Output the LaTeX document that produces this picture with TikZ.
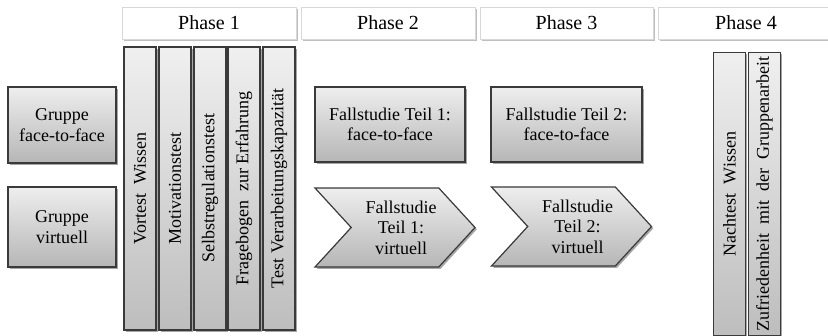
\documentclass[tikz,border=0pt]{standalone}
\usepackage{fontspec}
\setmainfont{Liberation Serif}
\usetikzlibrary{shadows,shapes.symbols}
\definecolor{bordc}{HTML}{3A3A3A}
\definecolor{topc}{HTML}{EEEEEE}
\definecolor{botc}{HTML}{B6B6B6}
\definecolor{hdrline}{HTML}{D8D8D8}
\tikzset{
  shd/.style={drop shadow={shadow xshift=1.8pt,shadow yshift=-1.8pt,opacity=0.35,fill=black}},
  gbox/.style={shd,draw=bordc,line width=1.2pt,top color=topc,bottom color=botc,
    rectangle,inner sep=0pt,align=center,font=\fontsize{18}{20.5}\selectfont},
  vbar/.style={gbox,top color=topc!90!white,bottom color=botc!90!white,minimum width=32pt},
  vtext/.style={rotate=90,inner sep=0pt,font=\fontsize{18}{20.5}\selectfont},
  hdr/.style={drop shadow={shadow xshift=1.8pt,shadow yshift=-1.8pt,opacity=0.25,fill=black},
    draw=hdrline,line width=0.6pt,fill=white,minimum height=32pt,inner sep=0pt,
    font=\fontsize{20}{22}\selectfont},
  chev/.style={gbox,signal,signal to=east,signal from=west,signal pointer angle=95,
    minimum width=160pt,minimum height=79pt}
}
\begin{document}
\begin{tikzpicture}[x=1pt,y=-1pt]
\useasboundingbox (0,0) rectangle (828,335);
% phase headers
\node[hdr,minimum width=174pt] (p1) at (209,23) {Phase 1};
\node[hdr,minimum width=174pt] (p2) at (388,23) {Phase 2};
\node[hdr,minimum width=173pt] (p3) at (566.5,23) {Phase 3};
\node[hdr,minimum width=176pt] (p4) at (746,23) {Phase 4};
% groups
\node[gbox,minimum width=108pt,minimum height=76pt] (g1) at (62,125) {Gruppe\\face-to-face};
\node[gbox,minimum width=108pt,minimum height=80pt] (g2) at (62,227) {Gruppe\\virtuell};
% phase 1 bars
\node[vbar,minimum height=283pt] (b1) at (140,188.5) {};
\node[vbar,minimum height=283pt] (b2) at (175,188.5) {};
\node[vbar,minimum height=283pt] (b3) at (210,188.5) {};
\node[vbar,minimum height=283pt] (b4) at (244,188.5) {};
\node[vbar,minimum height=283pt] (b5) at (279,188.5) {};
\node[vtext] (t1) at (b1) {Vortest\ \ Wissen};
\node[vtext] (t2) at (b2) {Motivationstest};
\node[vtext] (t3) at (b3) {Selbstregulationstest};
\node[vtext] (t4) at (b4) {Fragebogen\ \ zur Erfahrung};
\node[vtext] (t5) at (b5) {Test Verarbeitungskapazit\"at};
% phase 2/3
\node[gbox,minimum width=150pt,minimum height=75pt] (f1) at (390,124.5) {Fallstudie Teil 1:\\face-to-face};
\node[gbox,minimum width=151pt,minimum height=75pt] (f2) at (566.5,124.5) {Fallstudie Teil 2:\\face-to-face};
\node[chev] (v1) at (395,227.5) {\hspace*{12pt}Fallstudie\\\hspace*{12pt}Teil 1:\\\hspace*{12pt}virtuell};
\node[chev] (v2) at (571.5,226.5) {\hspace*{12pt}Fallstudie\\\hspace*{12pt}Teil 2:\\\hspace*{12pt}virtuell};
% phase 4 bars
\node[vbar,minimum height=283pt] (b6) at (729.5,194) {};
\node[vbar,minimum height=283pt] (b7) at (764.5,194) {};
\node[vtext] (t6) at (b6) {Nachtest\ \ Wissen};
\node[vtext] (t7) at (b7) {Zufriedenheit\ \ mit\ \ der\ \ Gruppenarbeit};
\end{tikzpicture}
\end{document}
